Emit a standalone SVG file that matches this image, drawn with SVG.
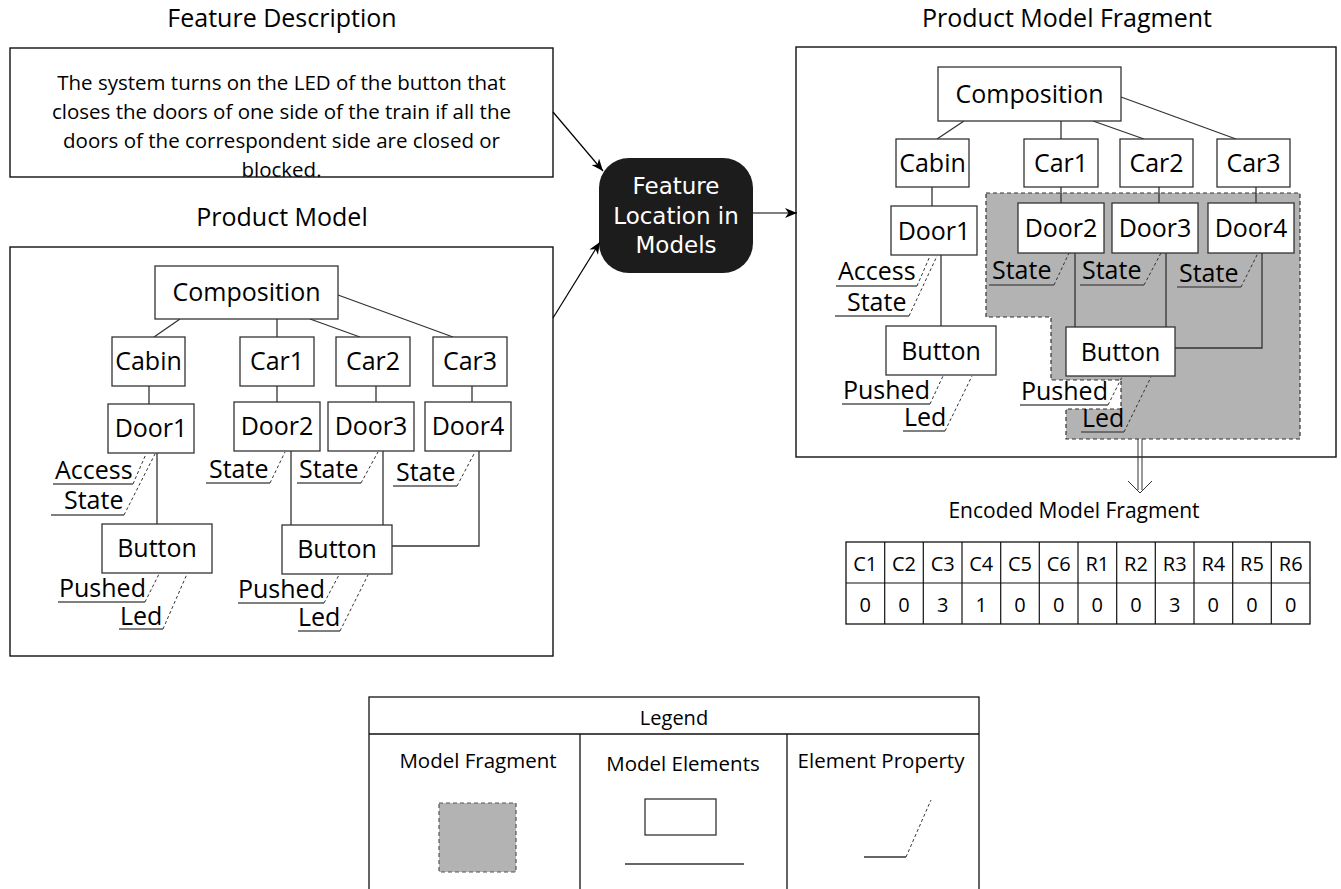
<svg xmlns="http://www.w3.org/2000/svg" width="1341" height="889" viewBox="0 0 1341 889">
<style>
text{font-family:"Open Sans","Liberation Sans",sans-serif;fill:#000}
.t{font-size:25px;text-anchor:middle}
.n{fill:#fff;stroke:#333;stroke-width:1.3}
.p{font-size:25px}
.e{stroke:#333;stroke-width:1.3;fill:none}
.ul{stroke:#555;stroke-width:1.6}
.d{stroke:#333;stroke-width:1;stroke-dasharray:3,2.5;fill:none}
.fr{fill:none;stroke:#111;stroke-width:1.4}
.sm{font-size:20px;text-anchor:middle}
</style>
<defs>
<marker id="arr" viewBox="0 0 12 10" refX="12" refY="5" markerWidth="12" markerHeight="10" orient="auto" markerUnits="userSpaceOnUse"><path d="M0,0 L12,5 L0,10 L3.5,5 z" fill="#000"/></marker>
<clipPath id="descClip"><rect x="10" y="48" width="543" height="129"/></clipPath>
</defs>
<rect width="1341" height="889" fill="#fff"/>

<!-- Titles -->
<text class="t" x="282" y="27">Feature Description</text>
<text class="t" x="282" y="226">Product Model</text>
<text class="t" x="1067" y="27">Product Model Fragment</text>

<!-- Feature description -->
<g id="feature-description">
<g clip-path="url(#descClip)" style="font-size:20.5px;text-anchor:middle">
<text x="281.5" y="90">The system turns on the LED of the button that</text>
<text x="281.5" y="119">closes the doors of one side of the train if all the</text>
<text x="281.5" y="148">doors of the correspondent side are closed or</text>
<text x="281.5" y="177">blocked.</text>
</g>
<rect class="fr" x="10" y="48" width="543" height="129"/>
</g>

<!-- Center node -->
<g id="feature-location">
<rect x="599" y="158" width="154" height="115" rx="30" ry="30" fill="#1c1c1c"/>
<g style="font-family:'DejaVu Sans',sans-serif;font-size:23px;text-anchor:middle">
<text x="676" y="194" style="fill:#fff;font-family:'DejaVu Sans',sans-serif">Feature</text>
<text x="676" y="224" style="fill:#fff;font-family:'DejaVu Sans',sans-serif">Location in</text>
<text x="676" y="253" style="fill:#fff;font-family:'DejaVu Sans',sans-serif">Models</text>
</g>
</g>

<!-- Left product model -->
<g id="product-model">
<rect class="fr" x="10" y="247" width="543" height="409"/>
<g id="pm-edges">
<path class="e" d="M180,319 L154,337 M277,319 V337 M310,319 L360,337 M338,295 L453,337 M149,386 V404 M277,386 V402 M376,386 V402 M472,386 V402 M157,453 V524 M291,451 V525 M383,451 V525 M479,451 V546 H392"/>
</g>
<g id="pm-composition"><rect class="n" x="155" y="266" width="183" height="53"/><text class="t" x="246.5" y="301">Composition</text></g>
<g id="pm-cabin"><rect class="n" x="112" y="337" width="73" height="49"/><text class="t" x="148.5" y="370">Cabin</text></g>
<g id="pm-car1"><rect class="n" x="240" y="337" width="74" height="49"/><text class="t" x="277" y="370">Car1</text></g>
<g id="pm-car2"><rect class="n" x="336" y="337" width="74" height="49"/><text class="t" x="373" y="370">Car2</text></g>
<g id="pm-car3"><rect class="n" x="433" y="337" width="74" height="49"/><text class="t" x="470" y="370">Car3</text></g>
<g id="pm-door1"><rect class="n" x="108" y="404" width="86" height="49"/><text class="t" x="151" y="437">Door1</text></g>
<g id="pm-door2"><rect class="n" x="234" y="402" width="86" height="49"/><text class="t" x="277" y="435">Door2</text></g>
<g id="pm-door3"><rect class="n" x="328" y="402" width="86" height="49"/><text class="t" x="371" y="435">Door3</text></g>
<g id="pm-door4"><rect class="n" x="425" y="402" width="86" height="49"/><text class="t" x="468" y="435">Door4</text></g>
<g id="pm-button1"><rect class="n" x="102" y="524" width="110" height="49"/><text class="t" x="157" y="557">Button</text></g>
<g id="pm-button2"><rect class="n" x="282" y="525" width="110" height="49"/><text class="t" x="337" y="558">Button</text></g>
<g id="pm-props">
<text class="p" x="55" y="479">Access</text><line class="ul" x1="53" y1="484" x2="133" y2="484"/><path class="d" d="M133,484 L146,454"/>
<text class="p" x="64" y="509">State</text><line class="ul" x1="51" y1="515" x2="124" y2="515"/><path class="d" d="M124,515 L155,454"/>
<text class="p" x="209" y="478">State</text><line class="ul" x1="206" y1="483" x2="270" y2="483"/><path class="d" d="M270,483 L285,452"/>
<text class="p" x="299" y="478">State</text><line class="ul" x1="297" y1="483" x2="361" y2="483"/><path class="d" d="M361,483 L378,452"/>
<text class="p" x="396" y="481">State</text><line class="ul" x1="393" y1="486" x2="457" y2="486"/><path class="d" d="M457,486 L475,452"/>
<text class="p" x="59" y="597">Pushed</text><line class="ul" x1="58" y1="602" x2="145" y2="602"/><path class="d" d="M145,602 L159,574"/>
<text class="p" x="120" y="625">Led</text><line class="ul" x1="119" y1="629" x2="163" y2="629"/><path class="d" d="M163,629 L187,574"/>
<text class="p" x="238" y="598">Pushed</text><line class="ul" x1="238" y1="603" x2="324" y2="603"/><path class="d" d="M324,603 L339,575"/>
<text class="p" x="298" y="626">Led</text><line class="ul" x1="298" y1="631" x2="340" y2="631"/><path class="d" d="M340,631 L368,575"/>
</g>
</g>

<!-- Right product model fragment -->
<g id="product-model-fragment">
<rect class="fr" x="796" y="47" width="540" height="410"/>
<path id="fragment-area" d="M986,193 H1300 V439 H1066 V409 H1121 V380 H1051 V317 H986 Z" fill="#b3b3b3" stroke="#333" stroke-width="1.2" stroke-dasharray="4,3"/>
<g id="pmf-edges">
<path class="e" d="M964,121 L937,139 M1061,121 V139 M1093,121 L1144,139 M1121,97 L1236,139 M932,187 V206 M1061,187 V203 M1159,187 V203 M1256,187 V203 M941,255 V326 M1075,253 V327 M1166,253 V327 M1262,253 V348 H1175"/>
</g>
<g id="pmf-composition"><rect class="n" x="938" y="67" width="183" height="54"/><text class="t" x="1029.5" y="103">Composition</text></g>
<g id="pmf-cabin"><rect class="n" x="896" y="139" width="73" height="48"/><text class="t" x="932.5" y="172">Cabin</text></g>
<g id="pmf-car1"><rect class="n" x="1024" y="139" width="74" height="48"/><text class="t" x="1061" y="172">Car1</text></g>
<g id="pmf-car2"><rect class="n" x="1120" y="139" width="73" height="48"/><text class="t" x="1156.5" y="172">Car2</text></g>
<g id="pmf-car3"><rect class="n" x="1217" y="139" width="73" height="48"/><text class="t" x="1253.5" y="172">Car3</text></g>
<g id="pmf-door1"><rect class="n" x="891" y="206" width="86" height="49"/><text class="t" x="934" y="239.5">Door1</text></g>
<g id="pmf-door2"><rect class="n" x="1018" y="203" width="86" height="50"/><text class="t" x="1061" y="237">Door2</text></g>
<g id="pmf-door3"><rect class="n" x="1112" y="203" width="86" height="50"/><text class="t" x="1155" y="237">Door3</text></g>
<g id="pmf-door4"><rect class="n" x="1208" y="203" width="86" height="50"/><text class="t" x="1251" y="237">Door4</text></g>
<g id="pmf-button1"><rect class="n" x="886" y="326" width="110" height="49"/><text class="t" x="941" y="359.5">Button</text></g>
<g id="pmf-button2"><rect class="n" x="1066" y="327" width="109" height="49"/><text class="t" x="1120.5" y="360.5">Button</text></g>
<g id="pmf-props">
<text class="p" x="838" y="280">Access</text><line class="ul" x1="836" y1="286" x2="917" y2="286"/><path class="d" d="M917,286 L930,256"/>
<text class="p" x="847" y="311">State</text><line class="ul" x1="835" y1="316" x2="909" y2="316"/><path class="d" d="M909,316 L937,256"/>
<text class="p" x="992" y="279">State</text><line class="ul" x1="989" y1="285" x2="1054" y2="285"/><path class="d" d="M1054,285 L1069,253"/>
<text class="p" x="1082" y="279">State</text><line class="ul" x1="1080" y1="285" x2="1144" y2="285"/><path class="d" d="M1144,285 L1161,253"/>
<text class="p" x="1179" y="282">State</text><line class="ul" x1="1177" y1="287" x2="1241" y2="287"/><path class="d" d="M1241,287 L1258,253"/>
<text class="p" x="843" y="399">Pushed</text><line class="ul" x1="842" y1="404" x2="930" y2="404"/><path class="d" d="M930,404 L943,376"/>
<text class="p" x="904" y="426">Led</text><line class="ul" x1="903" y1="431" x2="945" y2="431"/><path class="d" d="M945,431 L972,376"/>
<text class="p" x="1021" y="400">Pushed</text><line class="ul" x1="1020" y1="405" x2="1108" y2="405"/><path class="d" d="M1108,405 L1122,377"/>
<text class="p" x="1082" y="427">Led</text><line class="ul" x1="1081" y1="432" x2="1124" y2="432"/><path class="d" d="M1124,432 L1151,377"/>
</g>
</g>

<!-- Connectors between sections -->
<g id="connectors">
<line x1="553" y1="112" x2="603" y2="171" stroke="#000" stroke-width="1.2" marker-end="url(#arr)"/>
<line x1="553" y1="318" x2="600" y2="242" stroke="#000" stroke-width="1.2" marker-end="url(#arr)"/>
<line x1="753" y1="213" x2="797" y2="213" stroke="#000" stroke-width="1.2" marker-end="url(#arr)"/>
<path d="M1138,439 V490 M1142,439 V490 M1128,481 L1140,493 L1152,481" fill="none" stroke="#333" stroke-width="1"/>
</g>

<!-- Encoded model fragment -->
<g id="encoded-model-fragment">
<text x="1074" y="518" style="font-size:21px;text-anchor:middle">Encoded Model Fragment</text>
<rect x="846" y="542" width="464" height="82" fill="#fff" stroke="#111" stroke-width="1.3"/>
<path d="M846,583 H1310 M884.7,542 V624 M923.3,542 V624 M962,542 V624 M1000.7,542 V624 M1039.3,542 V624 M1078,542 V624 M1116.7,542 V624 M1155.3,542 V624 M1194,542 V624 M1232.7,542 V624 M1271.3,542 V624" stroke="#111" stroke-width="1.2" fill="none"/>
<g class="sm" style="font-size:20px;text-anchor:middle">
<text class="sm" x="865.3" y="571">C1</text><text class="sm" x="904" y="571">C2</text><text class="sm" x="942.7" y="571">C3</text><text class="sm" x="981.3" y="571">C4</text><text class="sm" x="1020" y="571">C5</text><text class="sm" x="1058.7" y="571">C6</text><text class="sm" x="1097.3" y="571">R1</text><text class="sm" x="1136" y="571">R2</text><text class="sm" x="1174.7" y="571">R3</text><text class="sm" x="1213.3" y="571">R4</text><text class="sm" x="1252" y="571">R5</text><text class="sm" x="1290.7" y="571">R6</text>
<text class="sm" x="865.3" y="612">0</text><text class="sm" x="904" y="612">0</text><text class="sm" x="942.7" y="612">3</text><text class="sm" x="981.3" y="612">1</text><text class="sm" x="1020" y="612">0</text><text class="sm" x="1058.7" y="612">0</text><text class="sm" x="1097.3" y="612">0</text><text class="sm" x="1136" y="612">0</text><text class="sm" x="1174.7" y="612">3</text><text class="sm" x="1213.3" y="612">0</text><text class="sm" x="1252" y="612">0</text><text class="sm" x="1290.7" y="612">0</text>
</g>
</g>

<!-- Legend -->
<g id="legend">
<rect x="369" y="697" width="610" height="210" fill="none" stroke="#111" stroke-width="1.3"/>
<path d="M369,734 H979 M580,734 V900 M787,734 V900" stroke="#111" stroke-width="1.3" fill="none"/>
<text class="sm" x="674" y="725">Legend</text>
<text class="sm" x="478" y="768" style="font-size:20.5px">Model Fragment</text>
<text class="sm" x="683" y="771" style="font-size:20.5px">Model Elements</text>
<text class="sm" x="881" y="768" style="font-size:20.5px">Element Property</text>
<rect x="439" y="803" width="77" height="69" fill="#b3b3b3" stroke="#555" stroke-width="1.2" stroke-dasharray="4,3"/>
<rect class="n" x="645" y="799" width="71" height="36"/>
<line class="e" x1="625" y1="864" x2="744" y2="864"/>
<line class="e" x1="864" y1="857" x2="906" y2="857"/>
<path class="d" d="M906,857 L931,800"/>
</g>
</svg>
